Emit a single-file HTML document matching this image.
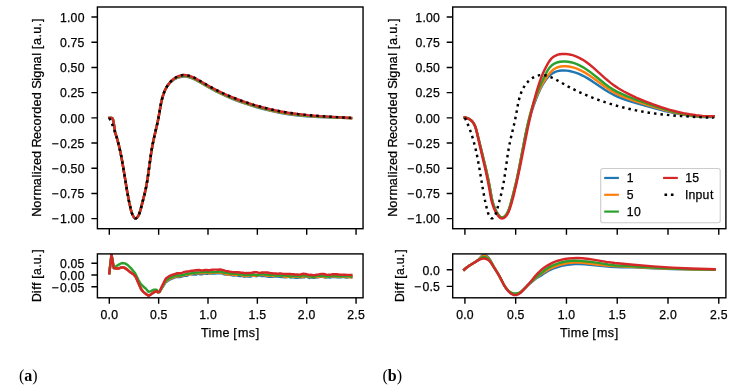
<!DOCTYPE html>
<html><head><meta charset="utf-8"><title>figure</title>
<style>html,body{margin:0;padding:0;background:#fff;}body{width:737px;height:389px;overflow:hidden;font-family:"Liberation Sans",sans-serif;}svg{display:block;will-change:transform;}</style>
</head><body>
<svg width="737" height="389" viewBox="0 0 737 389" font-family="Liberation Sans, sans-serif" fill="#000">
<style>text{stroke:#000;stroke-width:0.25px;}text.s{stroke:none;}</style>
<rect width="737" height="389" fill="#fff"/>
<clipPath id="cm0"><rect x="97.40" y="7.00" width="265.65" height="221.70"/></clipPath>
<clipPath id="cd0"><rect x="97.40" y="253.90" width="265.65" height="43.90"/></clipPath>
<g clip-path="url(#cm0)">
<path d="M109.30 117.85 L112.00 117.85 L112.90 119.20 L113.60 122.50 L114.80 130.00 L114.96 131.82 L116.81 137.65 L118.63 144.35 L120.38 151.95 L122.19 161.30 L124.61 175.89 L127.31 192.35 L129.13 201.93 L130.90 209.80 L131.65 212.44 L132.32 214.24 L133.18 216.03 L133.67 216.84 L134.19 217.53 L134.73 218.05 L135.29 218.35 L135.86 218.39 L136.43 218.17 L136.98 217.72 L137.52 217.08 L138.04 216.30 L138.97 214.48 L139.71 212.55 L140.84 208.65 L144.75 193.37 L146.30 186.26 L147.59 178.75 L149.42 165.48 L151.17 152.88 L152.50 144.99 L154.09 137.41 L157.72 121.69 L159.04 114.79 L160.91 104.04 L162.10 98.71 L163.36 94.40 L164.62 91.09 L165.72 88.77 L167.00 86.61 L168.46 84.59 L170.12 82.71 L171.98 81.01 L174.00 79.54 L176.16 78.34 L178.44 77.47 L181.60 76.71 L183.22 76.53 L184.85 76.54 L187.33 76.86 L189.82 77.51 L192.33 78.43 L195.67 79.98 L199.80 82.25 L209.32 87.79 L216.14 91.43 L222.97 94.75 L230.01 97.85 L237.24 100.74 L245.47 103.70 L253.86 106.38 L262.37 108.78 L270.97 110.89 L279.62 112.69 L288.26 114.19 L296.05 115.29 L306.44 116.22 L318.59 116.95 L334.31 117.54 L341.33 117.82 L351.05 118.30" fill="none" stroke="#1f77b4" stroke-width="2.45" stroke-linejoin="round" stroke-linecap="square"/>
<path d="M109.30 117.85 L112.00 117.85 L112.90 119.20 L113.60 122.50 L114.80 130.00 L114.96 131.82 L116.81 137.65 L118.63 144.35 L120.38 151.95 L122.19 161.30 L124.61 175.89 L127.31 192.35 L129.13 201.93 L130.90 209.80 L131.65 212.44 L132.32 214.24 L133.18 216.03 L133.67 216.84 L134.19 217.53 L134.73 218.05 L135.29 218.35 L135.86 218.39 L136.43 218.17 L136.98 217.72 L137.52 217.08 L138.04 216.30 L138.97 214.48 L139.71 212.55 L140.84 208.65 L144.75 193.37 L146.30 186.26 L147.59 178.75 L149.42 165.48 L151.17 152.88 L152.50 144.99 L154.09 137.41 L157.72 121.69 L159.04 114.79 L160.91 104.04 L162.10 98.71 L163.36 94.40 L164.62 91.09 L165.72 88.76 L167.00 86.56 L168.46 84.49 L170.12 82.57 L171.98 80.82 L174.00 79.30 L176.16 78.05 L178.44 77.11 L181.60 76.31 L183.22 76.13 L184.85 76.14 L187.33 76.46 L189.82 77.11 L192.33 78.03 L195.67 79.58 L199.80 81.85 L209.32 87.39 L216.14 91.03 L222.97 94.35 L230.01 97.45 L237.24 100.34 L245.47 103.30 L253.86 105.98 L262.37 108.38 L270.97 110.49 L279.62 112.29 L288.26 113.79 L296.05 114.89 L306.44 115.89 L318.59 116.71 L334.31 117.40 L347.51 118.00 L351.05 118.18" fill="none" stroke="#ff7f0e" stroke-width="2.45" stroke-linejoin="round" stroke-linecap="square"/>
<path d="M109.30 117.85 L112.00 117.85 L112.90 119.20 L113.60 122.50 L114.80 130.00 L114.96 131.82 L116.81 137.65 L118.63 144.35 L120.38 151.95 L122.19 161.30 L124.61 175.89 L127.31 192.35 L129.13 201.93 L130.90 209.80 L131.65 212.44 L132.32 214.24 L133.18 216.03 L133.67 216.84 L134.19 217.53 L134.73 218.05 L135.29 218.35 L135.86 218.39 L136.43 218.17 L136.98 217.72 L137.52 217.08 L138.04 216.30 L138.97 214.48 L139.71 212.55 L140.84 208.65 L144.75 193.37 L146.30 186.26 L147.59 178.75 L149.42 165.48 L151.17 152.88 L152.50 144.99 L154.09 137.41 L157.72 121.69 L159.04 114.79 L160.91 104.04 L162.10 98.71 L163.36 94.40 L164.62 91.09 L165.72 88.74 L167.00 86.51 L168.46 84.40 L170.12 82.43 L171.98 80.64 L174.00 79.06 L176.16 77.75 L178.44 76.75 L180.80 76.07 L182.40 75.80 L184.03 75.71 L185.67 75.80 L188.16 76.24 L190.66 76.99 L193.16 77.98 L196.50 79.61 L201.44 82.40 L209.32 86.99 L216.14 90.63 L222.97 93.95 L230.01 97.05 L237.24 99.94 L245.47 102.90 L253.86 105.58 L262.37 107.98 L270.97 110.09 L279.62 111.89 L288.26 113.39 L296.91 114.60 L307.30 115.63 L319.46 116.51 L336.06 117.33 L351.05 118.06" fill="none" stroke="#2ca02c" stroke-width="2.45" stroke-linejoin="round" stroke-linecap="square"/>
<path d="M109.30 117.85 L112.00 117.85 L112.90 119.20 L113.60 122.50 L114.80 130.00 L114.96 131.82 L116.81 137.65 L118.63 144.35 L120.38 151.95 L122.19 161.30 L124.61 175.89 L127.31 192.35 L129.13 201.93 L130.90 209.80 L131.65 212.44 L132.32 214.24 L133.18 216.03 L133.67 216.84 L134.19 217.53 L134.73 218.05 L135.29 218.35 L135.86 218.39 L136.43 218.17 L136.98 217.72 L137.52 217.08 L138.04 216.30 L138.97 214.48 L139.71 212.55 L140.84 208.65 L144.75 193.37 L146.30 186.26 L147.59 178.75 L149.42 165.48 L151.17 152.88 L152.50 144.99 L154.09 137.41 L157.72 121.69 L159.04 114.79 L160.91 104.04 L162.10 98.71 L163.36 94.40 L164.62 91.09 L165.72 88.70 L167.00 86.41 L168.46 84.24 L170.12 82.19 L171.98 80.31 L174.00 78.64 L176.16 77.23 L178.44 76.12 L180.00 75.58 L181.60 75.21 L183.22 75.03 L184.85 75.04 L187.33 75.36 L189.82 76.01 L192.33 76.93 L195.67 78.48 L199.80 80.75 L209.32 86.29 L216.14 89.93 L222.97 93.25 L230.01 96.35 L237.24 99.24 L245.47 102.20 L253.86 104.88 L262.37 107.28 L270.97 109.39 L279.62 111.19 L288.26 112.69 L297.78 114.01 L308.17 115.15 L320.33 116.15 L336.94 117.14 L351.05 117.85" fill="none" stroke="#d62728" stroke-width="2.45" stroke-linejoin="round" stroke-linecap="square"/>
<path d="M109.30 117.85 L111.51 122.75 L113.79 128.51 L115.78 134.32 L117.75 140.99 L119.63 148.57 L121.40 157.04 L123.36 168.15 L127.15 191.48 L128.96 201.06 L130.69 208.92 L131.65 212.44 L132.32 214.24 L133.18 216.03 L133.67 216.84 L134.19 217.53 L134.73 218.05 L135.29 218.35 L135.86 218.39 L136.43 218.17 L136.98 217.72 L137.52 217.08 L138.04 216.30 L138.97 214.48 L139.71 212.55 L140.84 208.65 L144.75 193.37 L146.30 186.26 L147.59 178.75 L149.42 165.48 L151.17 152.88 L152.50 144.99 L154.09 137.41 L157.72 121.69 L159.04 114.79 L160.91 104.04 L162.10 98.71 L163.36 94.40 L164.62 91.09 L165.72 88.70 L167.00 86.41 L168.46 84.24 L170.12 82.19 L171.98 80.31 L174.00 78.64 L176.16 77.23 L178.44 76.12 L180.00 75.58 L181.60 75.21 L183.22 75.03 L184.85 75.04 L187.33 75.36 L189.82 76.01 L192.33 76.93 L195.67 78.48 L199.80 80.75 L209.32 86.29 L216.14 89.93 L222.97 93.25 L230.01 96.35 L237.24 99.24 L245.47 102.20 L253.86 104.88 L262.37 107.28 L270.97 109.39 L279.62 111.19 L288.26 112.69 L297.78 114.01 L308.17 115.15 L320.33 116.15 L336.94 117.14 L351.05 117.85" fill="none" stroke="#000" stroke-width="2.45" stroke-linejoin="round" stroke-dasharray="2.5 4.0" stroke-linecap="butt"/>
</g>
<g clip-path="url(#cd0)">
<path d="M109.30 273.10 L111.50 254.60 L113.80 268.00 L115.70 268.40 L118.80 268.40 L121.50 267.30 L124.20 267.60 L127.30 269.60 L130.40 272.30 L133.40 274.20 L135.80 276.90 L140.90 288.80 L143.30 291.90 L146.30 294.20 L148.60 295.80 L150.60 294.60 L153.30 292.70 L156.00 291.10 L157.90 292.30 L159.40 291.90 L160.60 290.40 L161.80 288.26 L165.40 282.63 L166.60 281.68 L169.00 280.03 L170.20 279.39 L175.00 277.45 L176.20 277.05 L177.40 276.84 L178.60 276.99 L179.80 276.95 L181.00 276.73 L182.20 276.30 L184.60 275.76 L185.80 275.63 L187.00 275.69 L188.20 275.10 L189.40 274.07 L190.60 273.93 L191.80 274.34 L193.00 274.45 L194.20 274.40 L195.40 274.54 L196.60 274.43 L197.80 273.77 L199.00 273.83 L200.20 274.37 L201.40 274.34 L202.60 274.03 L203.80 273.60 L205.00 273.41 L206.20 273.70 L207.40 273.70 L208.60 273.38 L211.00 273.45 L212.20 273.36 L214.60 273.44 L217.00 273.18 L218.20 273.33 L219.40 273.37 L220.60 273.24 L221.80 273.41 L224.20 274.22 L225.40 274.44 L226.60 274.55 L227.80 274.86 L229.00 274.90 L230.20 274.77 L232.60 275.41 L233.80 275.44 L235.00 275.22 L236.20 275.28 L237.40 275.60 L238.60 275.79 L239.80 276.07 L241.00 276.11 L242.20 275.93 L244.60 276.75 L245.80 276.39 L247.00 276.23 L248.20 276.45 L249.40 276.56 L250.60 276.47 L251.80 276.06 L253.00 275.74 L254.20 275.85 L256.60 276.17 L257.80 275.90 L259.00 275.37 L260.20 275.46 L261.40 275.96 L262.60 275.96 L263.80 275.83 L265.00 276.01 L267.40 276.60 L268.60 276.76 L269.80 276.75 L271.00 276.61 L272.20 276.71 L273.40 276.62 L274.60 276.24 L277.00 276.55 L278.20 276.44 L281.80 276.94 L283.00 277.00 L285.40 277.40 L286.60 277.17 L287.80 276.73 L289.00 276.89 L290.20 277.46 L291.40 277.39 L292.60 277.18 L296.20 277.74 L297.40 277.72 L298.60 277.59 L299.80 277.62 L301.00 277.44 L302.20 277.18 L303.40 277.27 L304.60 277.22 L305.80 276.55 L307.00 276.43 L308.20 277.44 L309.40 278.02 L310.60 277.49 L311.80 277.37 L313.00 277.78 L314.20 277.73 L315.40 277.45 L317.80 277.35 L321.40 276.65 L322.60 276.74 L326.20 277.50 L327.40 277.20 L328.60 277.24 L329.80 277.55 L332.20 277.09 L333.40 277.10 L334.60 277.00 L335.80 277.06 L337.00 277.28 L339.40 277.11 L340.60 277.30 L341.80 277.16 L343.00 276.92 L344.20 276.99 L345.40 277.42 L346.60 277.67 L349.00 277.14 L350.20 277.03 L351.40 277.30" fill="none" stroke="#1f77b4" stroke-width="2.45" stroke-linejoin="round" stroke-linecap="square"/>
<path d="M109.30 273.10 L111.50 254.60 L113.80 268.00 L115.70 268.40 L118.80 268.40 L121.50 267.30 L124.20 267.60 L127.30 269.60 L130.40 272.30 L133.40 274.20 L135.80 276.90 L140.90 288.80 L143.30 291.90 L146.30 294.20 L148.60 295.80 L150.60 294.60 L153.30 292.70 L156.00 291.10 L157.90 292.30 L159.40 291.90 L160.60 290.14 L161.80 287.88 L165.40 281.89 L166.60 280.88 L169.00 279.23 L170.20 278.57 L175.00 276.61 L176.20 276.28 L177.40 276.10 L178.60 276.19 L181.00 276.04 L182.20 275.62 L183.40 275.30 L185.80 274.91 L187.00 274.62 L188.20 274.24 L189.40 273.96 L190.60 274.26 L191.80 274.24 L193.00 273.42 L194.20 272.83 L195.40 272.95 L196.60 273.25 L199.00 273.35 L200.20 273.33 L202.60 273.12 L205.00 273.12 L206.20 272.86 L207.40 272.82 L208.60 273.18 L209.80 273.27 L211.00 272.79 L212.20 272.44 L214.60 272.77 L215.80 272.75 L218.20 272.21 L220.60 272.58 L221.80 272.52 L223.00 273.05 L224.20 273.67 L225.40 273.92 L227.80 274.68 L230.20 274.24 L231.40 274.40 L232.60 274.67 L235.00 274.74 L236.20 274.93 L237.40 275.00 L239.80 274.48 L241.00 274.76 L242.20 275.47 L243.40 275.91 L244.60 276.05 L247.00 275.51 L248.20 275.61 L249.40 275.45 L250.60 275.13 L251.80 275.34 L253.00 275.77 L254.20 275.71 L256.60 275.19 L257.80 275.14 L259.00 275.29 L261.40 274.88 L262.60 274.82 L263.80 274.98 L265.00 275.39 L266.20 275.64 L267.40 275.69 L268.60 275.89 L269.80 275.90 L271.00 275.78 L272.20 275.74 L274.60 275.92 L277.00 275.74 L280.60 275.62 L283.00 276.30 L286.60 277.00 L287.80 276.70 L289.00 276.61 L290.20 276.78 L292.60 276.65 L293.80 276.66 L295.00 276.54 L296.20 276.56 L297.40 276.89 L299.80 277.01 L301.00 277.22 L302.20 276.98 L303.40 276.39 L304.60 276.11 L305.80 276.27 L308.20 276.84 L309.40 276.95 L310.60 276.80 L313.00 276.91 L315.40 276.78 L317.80 276.96 L319.00 276.75 L320.20 276.29 L321.40 276.11 L323.80 277.06 L325.00 277.19 L326.20 277.14 L327.40 276.75 L328.60 276.59 L329.80 276.63 L331.00 276.55 L332.20 276.30 L333.40 276.19 L334.60 276.35 L337.00 276.83 L338.20 276.87 L340.60 276.58 L344.20 276.61 L346.60 276.84 L349.00 277.22 L350.20 277.20 L351.40 277.06" fill="none" stroke="#ff7f0e" stroke-width="2.45" stroke-linejoin="round" stroke-linecap="square"/>
<path d="M109.30 273.10 L111.50 254.60 L113.80 268.00 L115.70 266.50 L118.80 264.60 L121.90 263.00 L125.00 263.40 L128.00 265.30 L131.10 268.40 L135.00 273.00 L138.60 280.30 L140.90 284.20 L143.30 286.50 L146.30 289.20 L148.60 291.90 L151.00 291.10 L154.00 289.60 L156.40 289.60 L159.10 292.27 L160.30 290.48 L161.50 288.09 L165.10 281.68 L166.30 280.28 L168.70 278.63 L169.90 277.99 L171.10 277.47 L172.30 276.83 L173.50 276.28 L175.90 275.44 L177.10 275.23 L180.70 275.45 L183.10 274.82 L184.30 274.68 L186.70 273.68 L187.90 273.46 L190.30 273.60 L191.50 273.21 L193.90 272.91 L195.10 272.53 L196.30 272.40 L197.50 272.48 L199.90 272.37 L202.30 271.85 L203.50 272.08 L205.90 271.88 L207.10 272.19 L208.30 272.32 L209.50 272.02 L210.70 271.85 L214.30 272.23 L217.90 271.82 L219.10 271.48 L220.30 271.37 L221.50 271.93 L222.70 272.34 L223.90 272.45 L225.10 272.68 L227.50 272.79 L228.70 273.31 L229.90 273.55 L231.10 273.45 L233.50 273.83 L234.70 273.88 L235.90 273.70 L237.10 273.90 L238.30 274.48 L239.50 274.52 L240.70 274.20 L241.90 274.41 L243.10 274.77 L244.30 275.01 L245.50 275.07 L247.90 274.71 L249.10 274.79 L250.30 274.96 L251.50 274.85 L252.70 274.46 L253.90 274.45 L255.10 274.85 L256.30 274.95 L258.70 274.80 L261.10 274.19 L262.30 274.01 L264.70 274.61 L265.90 274.49 L267.10 274.54 L269.50 275.19 L270.70 275.21 L271.90 274.85 L273.10 274.77 L275.50 275.61 L276.70 275.61 L277.90 275.42 L279.10 275.35 L282.70 275.49 L283.90 275.42 L285.10 275.49 L287.50 275.81 L288.70 276.11 L289.90 276.51 L291.10 276.59 L293.50 275.73 L294.70 275.76 L295.90 276.05 L298.30 276.01 L299.50 276.47 L300.70 276.44 L301.90 275.75 L303.10 275.36 L304.30 275.33 L305.50 275.68 L306.70 276.14 L307.90 276.37 L309.10 276.31 L310.30 276.38 L312.70 277.00 L313.90 277.15 L315.10 276.72 L316.30 276.18 L317.50 275.85 L318.70 275.85 L319.90 275.96 L321.10 275.72 L322.30 275.66 L323.50 275.89 L324.70 276.20 L325.90 276.30 L327.10 276.21 L328.30 276.53 L329.50 276.66 L331.90 275.61 L333.10 275.39 L334.30 275.53 L335.50 275.97 L336.70 276.19 L339.10 276.15 L340.30 276.19 L342.70 275.86 L345.10 276.16 L347.50 276.08 L348.70 276.13 L351.10 276.58" fill="none" stroke="#2ca02c" stroke-width="2.45" stroke-linejoin="round" stroke-linecap="square"/>
<path d="M109.30 273.10 L111.50 254.60 L113.80 268.00 L115.70 268.40 L118.80 268.40 L121.50 267.30 L124.20 267.60 L127.30 269.60 L130.40 272.30 L133.40 274.20 L135.80 276.90 L140.90 288.80 L143.30 291.90 L146.30 294.20 L148.60 295.80 L150.60 294.60 L153.30 292.70 L156.00 291.10 L157.90 292.30 L159.40 291.90 L161.80 286.50 L165.40 279.21 L166.60 277.98 L169.00 276.30 L170.20 275.59 L171.40 275.12 L175.00 274.02 L176.20 273.50 L177.40 273.18 L178.60 273.30 L179.80 273.16 L181.00 273.20 L182.20 272.82 L183.40 272.25 L184.60 271.87 L187.00 271.58 L188.20 271.47 L189.40 271.24 L190.60 270.87 L191.80 270.73 L193.00 270.77 L194.20 270.55 L195.40 270.16 L199.00 269.96 L201.40 270.35 L202.60 270.43 L203.80 270.34 L205.00 270.03 L206.20 269.94 L208.60 270.30 L209.80 270.22 L211.00 269.93 L212.20 269.75 L214.60 269.61 L215.80 269.61 L218.20 269.84 L219.40 269.51 L220.60 269.51 L221.80 269.88 L223.00 270.08 L224.20 270.43 L225.40 270.90 L227.80 271.18 L229.00 271.50 L231.40 271.84 L232.60 272.10 L233.80 272.25 L235.00 272.32 L237.40 272.29 L238.60 272.33 L239.80 272.45 L241.00 272.68 L242.20 272.61 L243.40 272.77 L244.60 273.23 L247.00 272.88 L248.20 273.09 L249.40 273.07 L251.80 272.73 L254.20 272.23 L255.40 272.10 L256.60 272.28 L259.00 272.88 L260.20 272.89 L261.40 272.56 L262.60 272.45 L263.80 272.53 L266.20 272.44 L267.40 272.53 L269.80 273.00 L273.40 273.55 L275.80 273.58 L277.00 273.72 L278.20 273.68 L279.40 273.55 L280.60 273.51 L281.80 273.64 L283.00 273.85 L285.40 273.94 L289.00 273.87 L290.20 273.94 L291.40 274.21 L292.60 274.31 L293.80 274.33 L295.00 274.43 L296.20 274.40 L297.40 274.51 L298.60 274.71 L299.80 274.63 L302.20 274.02 L303.40 273.82 L307.00 274.28 L308.20 274.80 L309.40 274.97 L310.60 274.81 L311.80 274.93 L313.00 275.28 L314.20 275.31 L315.40 274.88 L316.60 274.67 L317.80 274.60 L321.40 273.92 L323.80 273.90 L325.00 274.09 L326.20 274.73 L327.40 274.87 L328.60 274.66 L329.80 274.71 L331.00 274.65 L332.20 274.32 L335.80 274.19 L337.00 274.29 L339.40 274.71 L340.60 274.72 L341.80 274.65 L343.00 274.69 L344.20 274.64 L345.40 274.70 L346.60 274.85 L351.40 274.90" fill="none" stroke="#d62728" stroke-width="2.45" stroke-linejoin="round" stroke-linecap="square"/>
</g>
<rect x="97.40" y="7.00" width="265.65" height="221.70" fill="none" stroke="#000" stroke-width="1.40"/>
<rect x="97.40" y="253.90" width="265.65" height="43.90" fill="none" stroke="#000" stroke-width="1.40"/>
<path d="M109.30 228.70V234.70 M109.30 297.80V303.80 M158.65 228.70V234.70 M158.65 297.80V303.80 M208.00 228.70V234.70 M208.00 297.80V303.80 M257.35 228.70V234.70 M257.35 297.80V303.80 M306.70 228.70V234.70 M306.70 297.80V303.80 M356.05 228.70V234.70 M356.05 297.80V303.80 M91.40 17.05H97.40 M91.40 42.25H97.40 M91.40 67.45H97.40 M91.40 92.65H97.40 M91.40 117.85H97.40 M91.40 143.05H97.40 M91.40 168.25H97.40 M91.40 193.45H97.40 M91.40 218.65H97.40 M91.40 263.30H97.40 M91.40 275.05H97.40 M91.40 286.80H97.40" stroke="#000" stroke-width="1.40" fill="none"/>
<text x="59.89 66.96 70.56 77.63" y="21.80" font-size="12.24">1.00</text>
<text x="59.96 66.96 70.54 77.59" y="47.00" font-size="12.24">0.75</text>
<text x="59.96 66.96 70.52 77.63" y="72.20" font-size="12.24">0.50</text>
<text x="59.96 66.96 70.41 77.59" y="97.40" font-size="12.24">0.25</text>
<text x="59.96 66.96 70.56 77.63" y="122.60" font-size="12.24">0.00</text>
<text x="51.60 59.96 66.96 70.41 77.59" y="147.80" font-size="12.24">−0.25</text>
<text x="51.60 59.96 66.96 70.52 77.63" y="173.00" font-size="12.24">−0.50</text>
<text x="51.60 59.96 66.96 70.54 77.59" y="198.20" font-size="12.24">−0.75</text>
<text x="51.60 59.89 66.96 70.56 77.63" y="223.40" font-size="12.24">−1.00</text>
<text x="59.96 66.96 70.56 77.59" y="268.05" font-size="12.24">0.05</text>
<text x="59.96 66.96 70.56 77.63" y="279.80" font-size="12.24">0.00</text>
<text x="51.60 59.96 66.96 70.56 77.59" y="291.55" font-size="12.24">−0.05</text>
<text x="100.59 107.59 111.19" y="318.90" font-size="12.24">0.0</text>
<text x="149.94 156.94 160.50" y="318.90" font-size="12.24">0.5</text>
<text x="199.23 206.29 209.89" y="318.90" font-size="12.24">1.0</text>
<text x="248.58 255.64 259.20" y="318.90" font-size="12.24">1.5</text>
<text x="297.85 304.99 308.59" y="318.90" font-size="12.24">2.0</text>
<text x="347.20 354.34 357.90" y="318.90" font-size="12.24">2.5</text>
<text x="200.97 208.48 211.80 222.59 229.63 233.21 237.99 248.66 255.63" y="336.60" font-size="12.56">Time [ms]</text>
<text transform="translate(41.00 117.40) rotate(-90)" x="-99.29 -90.37 -82.84 -78.20 -67.75 -60.03 -56.82 -53.90 -47.71 -40.57 -33.24 -30.04 -21.57 -14.65 -8.16 -0.62 3.73 11.03 18.16 25.50 28.59 36.63 39.71 47.12 53.85 61.56 64.65 68.27 72.31 79.90 83.61 90.89 95.45" y="0" font-size="12.73">Normalized Recorded Signal [a.u.]</text>
<text transform="translate(41.00 275.60) rotate(-90)" x="-26.42 -17.54 -14.25 -10.34 -6.76 -3.28 0.61 7.91 11.47 18.48 22.87" y="0" font-size="12.24">Diff [a.u.]</text>
<clipPath id="cm1"><rect x="452.70" y="7.00" width="273.20" height="221.70"/></clipPath>
<clipPath id="cd1"><rect x="452.70" y="253.90" width="273.20" height="43.90"/></clipPath>
<g clip-path="url(#cm1)">
<path d="M464.72 117.53 L466.73 118.01 L468.49 118.69 L470.02 119.55 L471.34 120.59 L472.49 121.77 L473.46 123.08 L474.30 124.50 L475.33 126.82 L476.15 129.29 L477.48 134.49 L485.66 167.88 L488.12 178.90 L489.93 188.29 L491.61 197.75 L492.60 202.02 L493.63 205.39 L494.92 208.72 L496.11 211.17 L497.52 213.58 L498.60 215.14 L499.18 215.86 L499.79 216.50 L500.44 217.01 L501.12 217.37 L501.84 217.55 L502.59 217.51 L503.36 217.27 L504.11 216.86 L504.83 216.32 L505.50 215.66 L506.12 214.91 L507.23 213.20 L508.16 211.34 L509.28 208.55 L510.56 204.61 L513.63 192.87 L516.34 181.44 L518.76 170.01 L524.46 140.23 L526.81 129.35 L528.89 120.99 L531.04 113.43 L533.51 105.82 L536.03 98.99 L538.52 92.97 L540.91 87.84 L543.14 83.77 L545.10 80.73 L546.70 78.63 L548.41 76.71 L550.25 75.00 L552.22 73.53 L554.33 72.33 L556.60 71.42 L559.01 70.82 L561.54 70.51 L564.15 70.45 L566.81 70.64 L569.47 71.03 L572.96 71.82 L576.34 72.88 L579.59 74.16 L583.52 76.03 L587.32 78.15 L592.50 81.40 L604.86 89.72 L609.33 92.46 L613.17 94.54 L617.93 96.77 L622.81 98.75 L628.63 100.80 L637.09 103.41 L654.07 108.16 L665.09 110.98 L674.44 113.08 L682.13 114.53 L689.89 115.71 L696.85 116.48 L703.88 116.96 L710.10 117.11 L713.69 117.08" fill="none" stroke="#1f77b4" stroke-width="2.45" stroke-linejoin="round" stroke-linecap="square"/>
<path d="M464.71 117.55 L466.75 118.02 L468.53 118.69 L470.07 119.56 L471.41 120.60 L472.55 121.80 L473.53 123.14 L474.36 124.59 L475.38 126.96 L476.20 129.48 L477.94 136.54 L485.83 168.37 L488.12 178.64 L489.77 187.32 L491.56 197.88 L492.55 202.25 L493.58 205.67 L494.55 208.19 L495.71 210.65 L497.10 213.05 L498.75 215.34 L499.35 216.03 L499.99 216.62 L500.66 217.09 L501.35 217.41 L502.07 217.54 L502.81 217.47 L503.56 217.21 L504.30 216.78 L505.00 216.21 L505.67 215.51 L506.90 213.83 L507.98 211.90 L509.28 208.92 L510.19 206.26 L511.36 201.69 L516.47 180.95 L518.75 170.42 L521.77 154.60 L525.24 136.24 L527.45 125.87 L529.56 117.34 L531.73 109.76 L533.91 103.12 L536.06 97.39 L538.46 91.75 L540.76 86.99 L543.35 82.32 L545.76 78.49 L548.45 74.75 L550.22 72.57 L552.13 70.59 L553.51 69.45 L554.97 68.51 L556.52 67.74 L558.13 67.14 L560.64 66.53 L563.24 66.25 L565.90 66.26 L568.57 66.52 L571.21 67.00 L574.65 67.93 L577.96 69.13 L581.15 70.58 L585.00 72.66 L588.74 75.00 L593.83 78.57 L604.62 86.55 L609.04 89.54 L612.84 91.83 L616.76 93.89 L621.58 96.10 L627.36 98.40 L634.94 101.03 L651.93 106.34 L662.98 109.54 L671.52 111.75 L679.25 113.49 L686.17 114.78 L693.15 115.80 L699.33 116.43 L705.57 116.79 L711.88 116.86 L713.69 116.82" fill="none" stroke="#ff7f0e" stroke-width="2.45" stroke-linejoin="round" stroke-linecap="square"/>
<path d="M464.73 117.52 L466.78 118.02 L468.57 118.74 L470.12 119.64 L471.46 120.71 L472.61 121.94 L473.59 123.30 L474.43 124.77 L475.46 127.16 L476.28 129.71 L478.27 137.73 L485.36 166.70 L488.08 178.87 L489.96 188.47 L491.55 197.22 L492.55 201.58 L493.58 205.04 L494.88 208.45 L496.08 210.99 L497.50 213.49 L498.58 215.12 L499.17 215.87 L499.79 216.53 L500.45 217.06 L501.16 217.42 L501.91 217.56 L502.70 217.47 L503.50 217.17 L504.28 216.71 L505.01 216.13 L505.68 215.45 L506.29 214.69 L507.35 212.99 L508.23 211.15 L509.28 208.37 L510.57 204.17 L514.50 189.26 L517.00 178.80 L519.40 167.27 L525.63 134.22 L527.87 123.65 L529.96 114.97 L532.09 107.30 L534.21 100.62 L536.58 94.08 L539.24 87.67 L542.64 80.32 L546.52 72.46 L548.00 69.84 L549.09 68.23 L550.28 66.78 L551.58 65.52 L552.97 64.45 L554.46 63.56 L556.02 62.83 L557.65 62.26 L560.19 61.69 L562.82 61.43 L565.50 61.46 L568.20 61.73 L570.87 62.24 L573.48 62.94 L576.84 64.14 L580.06 65.61 L583.17 67.31 L586.93 69.70 L591.29 72.87 L598.39 78.56 L604.79 83.70 L609.17 86.92 L612.95 89.37 L616.85 91.58 L621.68 93.97 L627.47 96.45 L635.08 99.31 L654.71 106.02 L664.97 109.27 L672.71 111.45 L679.64 113.15 L686.64 114.57 L692.83 115.54 L699.09 116.22 L704.52 116.55 L710.02 116.62 L713.73 116.51" fill="none" stroke="#2ca02c" stroke-width="2.45" stroke-linejoin="round" stroke-linecap="square"/>
<path d="M464.67 117.53 L466.83 118.04 L468.69 118.77 L470.29 119.70 L471.66 120.82 L472.81 122.09 L473.78 123.51 L474.59 125.06 L475.57 127.55 L476.55 131.12 L480.28 147.61 L485.74 170.95 L488.00 181.68 L489.79 191.59 L490.92 197.91 L491.96 202.39 L493.05 205.93 L494.05 208.55 L495.27 211.14 L496.71 213.69 L498.43 216.16 L499.06 216.89 L499.73 217.52 L500.44 218.02 L501.19 218.34 L501.98 218.46 L502.80 218.35 L503.64 218.05 L504.45 217.58 L505.20 217.00 L505.90 216.31 L506.53 215.55 L507.64 213.83 L508.56 211.95 L509.68 209.07 L511.33 203.92 L513.59 195.59 L516.35 184.06 L519.68 168.61 L527.89 127.63 L531.04 113.26 L533.85 101.74 L536.46 92.14 L538.81 84.39 L540.90 78.40 L542.98 73.26 L544.97 68.96 L547.26 64.63 L549.35 61.16 L550.52 59.56 L551.81 58.17 L553.23 57.00 L554.74 56.03 L556.34 55.26 L558.01 54.67 L559.75 54.24 L562.44 53.91 L565.19 53.90 L567.95 54.17 L570.68 54.69 L573.34 55.42 L575.91 56.34 L579.22 57.83 L582.40 59.58 L585.48 61.57 L589.21 64.31 L593.55 67.89 L606.30 79.29 L610.66 82.88 L614.41 85.64 L619.03 88.69 L623.79 91.47 L629.48 94.44 L636.13 97.54 L644.60 101.10 L653.21 104.41 L661.06 107.14 L668.99 109.59 L676.13 111.50 L683.32 113.14 L689.67 114.32 L696.07 115.24 L702.51 115.90 L708.99 116.26 L713.64 116.33" fill="none" stroke="#d62728" stroke-width="2.45" stroke-linejoin="round" stroke-linecap="square"/>
<path d="M464.90 117.85 L467.18 122.75 L469.52 128.51 L471.57 134.32 L473.59 140.99 L475.33 147.72 L477.18 156.19 L479.08 166.44 L483.27 191.48 L485.12 201.06 L486.91 208.92 L487.90 212.44 L488.59 214.24 L489.47 216.03 L489.97 216.84 L490.51 217.53 L491.07 218.05 L491.64 218.35 L492.23 218.39 L492.81 218.17 L493.38 217.72 L493.94 217.08 L494.47 216.30 L495.42 214.48 L496.19 212.55 L497.09 209.62 L501.18 194.16 L502.80 187.06 L504.02 180.45 L505.57 169.97 L507.84 153.77 L509.18 145.85 L510.79 138.24 L514.71 121.69 L516.08 114.79 L518.00 104.04 L519.00 99.59 L520.24 95.25 L521.47 91.91 L522.55 89.49 L523.81 87.17 L525.24 84.95 L526.88 82.86 L528.73 80.92 L530.76 79.17 L532.94 77.67 L535.24 76.45 L536.83 75.83 L538.46 75.37 L540.11 75.10 L541.79 75.01 L543.48 75.10 L546.03 75.54 L548.61 76.29 L551.19 77.28 L554.62 78.91 L559.70 81.70 L567.81 86.29 L574.83 89.93 L581.86 93.25 L589.09 96.35 L596.53 99.24 L605.00 102.20 L613.63 104.88 L622.39 107.28 L631.24 109.39 L640.13 111.19 L649.03 112.69 L658.82 114.01 L669.51 115.15 L682.02 116.15 L699.11 117.14 L713.63 117.85" fill="none" stroke="#000" stroke-width="2.45" stroke-linejoin="round" stroke-dasharray="2.5 4.0" stroke-linecap="butt"/>
</g>
<g clip-path="url(#cd1)">
<path d="M464.17 269.68 L466.39 267.73 L469.12 265.76 L475.91 261.57 L477.97 260.01 L479.56 258.47 L481.72 256.05 L482.27 255.53 L482.82 255.11 L483.37 254.85 L483.93 254.76 L484.48 254.82 L485.58 255.19 L486.65 255.87 L487.67 256.77 L489.07 258.39 L490.27 260.17 L494.20 267.31 L498.54 274.52 L501.16 279.55 L503.74 284.54 L505.51 287.42 L507.23 289.70 L508.82 291.39 L510.14 292.52 L511.56 293.44 L513.07 294.08 L514.12 294.32 L515.21 294.41 L516.32 294.31 L517.96 293.88 L519.51 293.14 L520.90 292.15 L523.01 290.19 L526.89 286.18 L527.99 284.93 L532.28 281.43 L535.59 278.82 L537.94 277.28 L540.89 275.72 L544.04 273.39 L546.88 271.61 L549.84 270.03 L552.91 268.67 L557.69 266.98 L561.53 265.89 L566.02 264.97 L570.01 264.43 L575.19 264.07 L579.79 264.03 L584.94 264.31 L610.39 266.67 L621.24 267.33 L633.24 267.23 L652.67 268.26 L671.52 268.92 L700.72 269.59 L714.50 269.69" fill="none" stroke="#1f77b4" stroke-width="2.45" stroke-linejoin="round" stroke-linecap="square"/>
<path d="M464.17 269.68 L466.39 267.73 L469.12 265.76 L475.91 261.59 L477.97 260.11 L480.10 258.26 L481.72 256.77 L482.82 256.03 L483.37 255.82 L483.93 255.76 L485.04 255.94 L486.12 256.41 L487.17 257.11 L488.63 258.47 L489.89 260.06 L491.31 262.35 L494.20 267.43 L498.54 274.54 L501.16 279.55 L503.74 284.53 L505.51 287.39 L507.23 289.62 L508.82 291.25 L510.14 292.31 L511.56 293.15 L513.07 293.72 L514.66 293.99 L516.32 293.93 L517.96 293.57 L519.51 292.92 L520.90 292.00 L522.61 290.51 L526.51 286.58 L527.99 284.93 L532.28 280.96 L535.59 277.98 L537.94 276.19 L540.89 274.33 L543.58 272.38 L546.39 270.64 L551.36 268.01 L554.48 266.64 L558.23 265.31 L562.09 264.26 L566.59 263.35 L570.59 262.80 L574.04 262.55 L578.64 262.55 L583.23 262.83 L592.86 263.91 L606.41 265.42 L614.95 266.03 L634.96 266.94 L654.38 268.04 L673.24 268.80 L697.85 269.44 L714.50 269.59" fill="none" stroke="#ff7f0e" stroke-width="2.45" stroke-linejoin="round" stroke-linecap="square"/>
<path d="M464.17 269.68 L466.39 267.73 L469.12 265.76 L476.93 260.94 L481.72 257.64 L482.82 257.13 L483.37 256.99 L483.93 256.96 L485.04 257.12 L486.12 257.50 L487.17 258.08 L488.63 259.24 L489.89 260.65 L491.31 262.75 L494.52 268.09 L498.26 274.06 L500.40 278.05 L503.47 284.03 L505.20 286.89 L506.87 289.13 L508.40 290.74 L509.68 291.80 L511.07 292.64 L512.56 293.22 L514.12 293.54 L515.76 293.59 L517.42 293.38 L519.01 292.91 L520.45 292.15 L521.77 291.17 L524.99 288.14 L527.62 285.34 L529.07 283.89 L534.83 278.14 L537.54 275.80 L540.03 274.01 L540.89 273.40 L544.04 270.74 L547.36 268.34 L549.34 267.14 L552.39 265.63 L555.54 264.34 L559.32 263.04 L563.20 262.02 L567.16 261.25 L571.16 260.74 L573.46 260.59 L578.07 260.79 L582.09 261.11 L587.21 261.48 L594.55 262.37 L599.63 263.16 L608.11 264.50 L614.38 265.26 L632.10 266.36 L653.24 267.58 L672.10 268.49 L694.99 269.23 L712.20 269.48 L714.50 269.49" fill="none" stroke="#2ca02c" stroke-width="2.45" stroke-linejoin="round" stroke-linecap="square"/>
<path d="M464.17 269.68 L466.39 267.73 L469.12 265.76 L477.45 260.70 L479.56 259.58 L481.18 258.95 L482.82 258.60 L483.93 258.56 L485.58 258.80 L487.17 259.39 L488.63 260.28 L489.89 261.44 L490.98 262.81 L497.67 273.11 L499.63 276.56 L503.47 284.06 L505.20 287.00 L506.87 289.37 L508.82 291.63 L510.14 292.89 L511.56 293.94 L513.07 294.71 L514.12 295.01 L515.21 295.10 L516.32 294.98 L517.42 294.66 L519.01 293.87 L520.45 292.81 L522.19 291.16 L527.26 285.78 L530.86 281.41 L535.21 276.03 L537.94 273.06 L540.89 270.31 L544.04 267.82 L547.36 265.58 L550.85 263.63 L553.95 262.18 L557.15 260.96 L560.98 259.83 L564.89 258.98 L568.87 258.41 L572.89 258.10 L577.49 258.03 L582.09 258.24 L587.21 258.77 L594.55 259.88 L606.41 261.86 L614.95 262.94 L633.24 264.73 L653.24 266.38 L672.10 267.62 L690.41 268.52 L707.61 269.06 L714.50 269.19" fill="none" stroke="#d62728" stroke-width="2.45" stroke-linejoin="round" stroke-linecap="square"/>
</g>
<rect x="452.70" y="7.00" width="273.20" height="221.70" fill="none" stroke="#000" stroke-width="1.40"/>
<rect x="452.70" y="253.90" width="273.20" height="43.90" fill="none" stroke="#000" stroke-width="1.40"/>
<path d="M464.90 228.70V234.70 M464.90 297.80V303.80 M515.67 228.70V234.70 M515.67 297.80V303.80 M566.45 228.70V234.70 M566.45 297.80V303.80 M617.22 228.70V234.70 M617.22 297.80V303.80 M668.00 228.70V234.70 M668.00 297.80V303.80 M718.77 228.70V234.70 M718.77 297.80V303.80 M446.70 17.05H452.70 M446.70 42.25H452.70 M446.70 67.45H452.70 M446.70 92.65H452.70 M446.70 117.85H452.70 M446.70 143.05H452.70 M446.70 168.25H452.70 M446.70 193.45H452.70 M446.70 218.65H452.70 M446.70 269.75H452.70 M446.70 286.40H452.70" stroke="#000" stroke-width="1.40" fill="none"/>
<text x="415.32 422.39 425.99 433.06" y="21.80" font-size="12.24">1.00</text>
<text x="415.39 422.39 425.97 433.02" y="47.00" font-size="12.24">0.75</text>
<text x="415.39 422.39 425.95 433.06" y="72.20" font-size="12.24">0.50</text>
<text x="415.39 422.39 425.84 433.02" y="97.40" font-size="12.24">0.25</text>
<text x="415.39 422.39 425.99 433.06" y="122.60" font-size="12.24">0.00</text>
<text x="407.03 415.39 422.39 425.84 433.02" y="147.80" font-size="12.24">−0.25</text>
<text x="407.03 415.39 422.39 425.95 433.06" y="173.00" font-size="12.24">−0.50</text>
<text x="407.03 415.39 422.39 425.97 433.02" y="198.20" font-size="12.24">−0.75</text>
<text x="407.03 415.32 422.39 425.99 433.06" y="223.40" font-size="12.24">−1.00</text>
<text x="422.46 429.46 433.06" y="274.50" font-size="12.24">0.0</text>
<text x="414.10 422.46 429.46 433.02" y="291.15" font-size="12.24">−0.5</text>
<text x="456.19 463.19 466.79" y="318.90" font-size="12.24">0.0</text>
<text x="506.97 513.97 517.53" y="318.90" font-size="12.24">0.5</text>
<text x="557.68 564.74 568.34" y="318.90" font-size="12.24">1.0</text>
<text x="608.45 615.52 619.08" y="318.90" font-size="12.24">1.5</text>
<text x="659.15 666.29 669.89" y="318.90" font-size="12.24">2.0</text>
<text x="709.92 717.07 720.63" y="318.90" font-size="12.24">2.5</text>
<text x="560.04 567.55 570.87 581.67 588.71 592.28 597.06 607.73 614.70" y="336.60" font-size="12.56">Time [ms]</text>
<text transform="translate(396.50 117.40) rotate(-90)" x="-99.29 -90.37 -82.84 -78.20 -67.75 -60.03 -56.82 -53.90 -47.71 -40.57 -33.24 -30.04 -21.57 -14.65 -8.16 -0.62 3.73 11.03 18.16 25.50 28.59 36.63 39.71 47.12 53.85 61.56 64.65 68.27 72.31 79.90 83.61 90.89 95.45" y="0" font-size="12.73">Normalized Recorded Signal [a.u.]</text>
<text transform="translate(404.30 275.60) rotate(-90)" x="-26.42 -17.54 -14.25 -10.34 -6.76 -3.28 0.61 7.91 11.47 18.48 22.87" y="0" font-size="12.24">Diff [a.u.]</text>
<rect x="600.70" y="168.50" width="119.50" height="54.20" rx="2.2" fill="#fff" fill-opacity="0.8" stroke="#cccccc" stroke-width="1.1"/>
<path d="M605.30 177.95H617.80" stroke="#1f77b4" stroke-width="2.2" stroke-linecap="square"/>
<text x="626.76" y="181.90" font-size="12.24">1</text>
<path d="M605.30 194.80H617.80" stroke="#ff7f0e" stroke-width="2.2" stroke-linecap="square"/>
<text x="626.78" y="198.75" font-size="12.24">5</text>
<path d="M605.30 211.60H617.80" stroke="#2ca02c" stroke-width="2.2" stroke-linecap="square"/>
<text x="626.76 633.90" y="215.55" font-size="12.24">10</text>
<path d="M664.20 177.95H676.70" stroke="#d62728" stroke-width="2.2" stroke-linecap="square"/>
<text x="685.16 692.25" y="181.90" font-size="12.24">15</text>
<path d="M664.50 194.80H676.30" stroke="#000" stroke-width="2.5" stroke-dasharray="2.6 3.8"/>
<text x="685.04 688.52 695.60 702.56 709.96" y="198.75" font-size="12.24">Input</text>
<text class="s" x="18.9" y="380.8" font-family="Liberation Serif, serif" font-size="16">(<tspan font-weight="bold">a</tspan>)</text>
<text class="s" x="382.4" y="380.8" font-family="Liberation Serif, serif" font-size="16">(<tspan font-weight="bold">b</tspan>)</text>
</svg>
</body></html>
